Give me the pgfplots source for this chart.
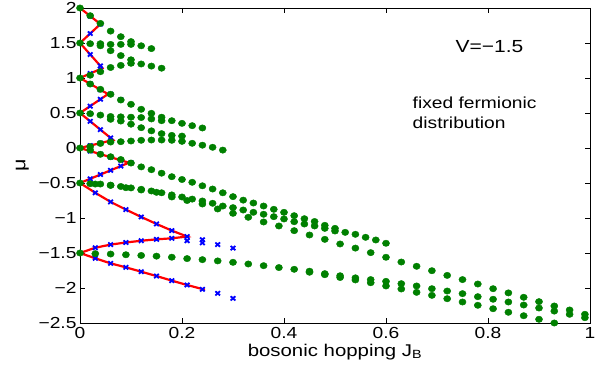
\documentclass[border=0pt]{standalone}
\usepackage{pgfplots}
\pgfplotsset{compat=1.18}
\usepackage{fontspec}
\setmainfont{Liberation Sans}[FakeStretch=1.2]
\definecolor{mgreen}{RGB}{0,128,0}
\begin{document}
\begin{tikzpicture}
\useasboundingbox (-80pt,-51pt) rectangle (525pt,323pt);
\begin{axis}[
  at={(0,0)}, anchor=south west,
  scale only axis, width=510pt, height=315pt,
  xmin=0, xmax=1, ymin=-2.5, ymax=2,
  xtick={0,0.2,0.4,0.6,0.8,1},
  xticklabels={0,0.2,0.4,0.6,0.8,1},
  ytick={-2.5,-2,-1.5,-1,-0.5,0,0.5,1,1.5,2},
  yticklabels={−2.5,−2,−1.5,−1,−0.5,0,0.5,1,1.5,2},
  tick align=inside,
  major tick length=5pt,
  tick style={black, line width=0.6pt},
  axis line style={black, line width=0.8pt},
  ticklabel style={font=\fontsize{16}{18}\selectfont},
  xticklabel style={yshift=-1pt},
  label style={font=\fontsize{17}{20}\selectfont},
  xlabel={bosonic hopping J\textsubscript{B}},
  ylabel={μ},
  x label style={at={(axis description cs:0.5,-0.092)}, anchor=center},
  y label style={at={(axis description cs:-0.113,0.5)}, anchor=center, font=\fontsize{18}{20}\selectfont},
  clip=false,
]
% blue crosses
\addplot[only marks, mark=x, color=blue, mark size=3pt, mark options={line width=1.8pt, xscale=1.1}] coordinates {
(0.02,1.885) (0.04,1.77) (0.02,1.635)
(0.02,1.336) (0.04,1.173) (0.04,1.127) (0.02,1.064)
(0.02,0.916) (0.04,0.833) (0.06,0.77) (0.08,0.69) (0.04,0.696) (0.02,0.598)
(0.02,0.381) (0.04,0.262) (0.06,0.144) (0.06,0.105) (0.04,0.07) (0.02,0.035)
(0.02,-0.044) (0.04,-0.0875) (0.06,-0.131) (0.08,-0.175) (0.10,-0.21) (0.08,-0.258) (0.06,-0.319) (0.04,-0.379) (0.02,-0.44)
(0.03,-0.64) (0.06,-0.77) (0.09,-0.88) (0.12,-0.985) (0.15,-1.085) (0.18,-1.18) (0.21,-1.265) (0.21,-1.325) (0.24,-1.31) (0.24,-1.355) (0.27,-1.38) (0.30,-1.43)
(0.18,-1.29) (0.15,-1.305) (0.12,-1.325) (0.09,-1.35) (0.06,-1.38) (0.03,-1.425)
(0.03,-1.576) (0.06,-1.648) (0.09,-1.705) (0.12,-1.767) (0.15,-1.829) (0.18,-1.895) (0.21,-1.957) (0.24,-2.019) (0.27,-2.076) (0.30,-2.148)
};
% red line
\addplot[red, line width=2.2pt, mark=none] coordinates {
(0,2) (0.02,1.885) (0.04,1.77) (0.02,1.635) (0,1.5) (0.02,1.336) (0.044,1.14) (0.02,1.064) (0,1)
(0.02,0.916) (0.055,0.77) (0.02,0.598) (0,0.5) (0.02,0.381) (0.065,0.114) (0.02,0.035) (0,0)
(0.02,-0.044) (0.096,-0.21) (0.02,-0.44) (0,-0.5)
(0.03,-0.64) (0.06,-0.77) (0.09,-0.88) (0.12,-0.985) (0.15,-1.085) (0.18,-1.18) (0.21,-1.265)
(0.18,-1.29) (0.15,-1.305) (0.12,-1.325) (0.09,-1.35) (0.06,-1.38) (0.03,-1.425) (0,-1.5)
(0.03,-1.576) (0.06,-1.648) (0.09,-1.705) (0.12,-1.767) (0.15,-1.829) (0.18,-1.895) (0.21,-1.957) (0.245,-2.025)
};
% green dots
\pgfplotsset{gdot/.style={only marks, mark=*, color=mgreen, mark size=3.2pt, mark options={xscale=1.12, draw=mgreen, fill=mgreen}}}
\addplot[gdot] coordinates {
(0,2) (0.02,1.89) (0.04,1.78) (0.06,1.67) (0.08,1.59) (0.10,1.52)
(0,1.5) (0.02,1.49) (0.04,1.49) (0.06,1.48) (0.08,1.48) (0.10,1.48) (0.12,1.46) (0.14,1.42)
(0.04,1.46) (0.06,1.39) (0.08,1.32) (0.10,1.26)
(0,1) (0.02,1.04) (0.04,1.09) (0.06,1.15) (0.08,1.18) (0.10,1.21) (0.12,1.20) (0.14,1.17) (0.16,1.14)
};
\addplot[gdot] coordinates {
(0.02,0.914) (0.04,0.838) (0.06,0.767) (0.08,0.686) (0.10,0.624) (0.12,0.553) (0.14,0.495) (0.16,0.44) (0.18,0.39) (0.20,0.352) (0.22,0.319) (0.24,0.286)
(0,0.5) (0.02,0.49) (0.04,0.47) (0.06,0.45) (0.08,0.445) (0.10,0.44) (0.12,0.435) (0.14,0.415) (0.16,0.39)
(0.06,0.41) (0.08,0.385) (0.10,0.34) (0.12,0.29) (0.14,0.245) (0.16,0.205) (0.18,0.18) (0.20,0.17)
};
\addplot[gdot] coordinates {
(0,0) (0.02,0.02) (0.04,0.065) (0.06,0.085) (0.08,0.09) (0.10,0.10) (0.12,0.11) (0.14,0.114) (0.16,0.114) (0.18,0.11) (0.20,0.095) (0.22,0.067) (0.24,0.04) (0.26,0.01) (0.28,-0.03)
(0.02,-0.03) (0.04,-0.09) (0.06,-0.125) (0.08,-0.165) (0.10,-0.215) (0.12,-0.27) (0.14,-0.31) (0.16,-0.36) (0.18,-0.41) (0.20,-0.45) (0.22,-0.49) (0.24,-0.54) (0.26,-0.586) (0.28,-0.64) (0.30,-0.695) (0.32,-0.745) (0.34,-0.786) (0.36,-0.829) (0.38,-0.876) (0.40,-0.919) (0.42,-0.967) (0.44,-1.01) (0.46,-1.05) (0.48,-1.105) (0.50,-1.148) (0.52,-1.205) (0.54,-1.233) (0.56,-1.276) (0.58,-1.314) (0.60,-1.361)
};
\addplot[gdot] coordinates {
(0,-0.5) (0.02,-0.51) (0.04,-0.515) (0.06,-0.53) (0.08,-0.55) (0.10,-0.57) (0.12,-0.59) (0.14,-0.614) (0.16,-0.64) (0.18,-0.67) (0.20,-0.70) (0.22,-0.73) (0.24,-0.757) (0.26,-0.79) (0.28,-0.829) (0.30,-0.852) (0.32,-0.886) (0.34,-0.919) (0.36,-0.947) (0.38,-0.981) (0.40,-1.014) (0.42,-1.053) (0.44,-1.086) (0.46,-1.114) (0.48,-1.148) (0.50,-1.186)
(0.03,-0.515) (0.06,-0.535) (0.09,-0.567) (0.12,-0.60) (0.15,-0.633) (0.18,-0.70) (0.21,-0.75) (0.24,-0.80) (0.27,-0.871) (0.30,-0.933) (0.33,-0.99) (0.36,-1.057) (0.39,-1.114) (0.42,-1.181) (0.45,-1.243) (0.48,-1.305) (0.51,-1.371) (0.54,-1.43) (0.57,-1.495) (0.60,-1.561) (0.63,-1.629) (0.66,-1.69) (0.69,-1.753) (0.72,-1.82) (0.75,-1.88) (0.78,-1.943) (0.81,-2.01) (0.84,-2.07) (0.87,-2.133) (0.90,-2.195) (0.93,-2.257) (0.96,-2.314) (0.99,-2.376)
};
\addplot[gdot] coordinates {
(0,-1.5) (0.03,-1.51) (0.06,-1.515) (0.09,-1.525) (0.12,-1.535) (0.15,-1.545) (0.18,-1.56) (0.21,-1.58) (0.24,-1.595) (0.27,-1.613) (0.30,-1.633) (0.33,-1.657) (0.36,-1.681) (0.39,-1.708) (0.42,-1.733) (0.45,-1.76) (0.48,-1.795) (0.51,-1.825) (0.54,-1.855) (0.57,-1.88) (0.60,-1.905) (0.63,-1.938) (0.66,-1.971) (0.69,-2.01) (0.72,-2.043) (0.75,-2.081) (0.78,-2.124) (0.81,-2.161) (0.84,-2.2) (0.87,-2.243) (0.90,-2.286) (0.93,-2.33) (0.96,-2.376) (0.99,-2.424)
(0.45,-1.775) (0.48,-1.81) (0.51,-1.85) (0.54,-1.885) (0.57,-1.925) (0.60,-1.971) (0.63,-2.014) (0.66,-2.062) (0.69,-2.105) (0.72,-2.153) (0.75,-2.2) (0.78,-2.247) (0.81,-2.296) (0.84,-2.347) (0.87,-2.396) (0.90,-2.447) (0.93,-2.5)
};
\node[font=\fontsize{17.5}{20}\selectfont, anchor=center] at (axis cs:0.803,1.443) {V=−1.5};
\node[font=\fontsize{16}{20}\selectfont, anchor=west, align=left, inner sep=0pt] at (axis cs:0.652,0.5) {fixed fermionic\\distribution};
\end{axis}
\end{tikzpicture}
\end{document}
